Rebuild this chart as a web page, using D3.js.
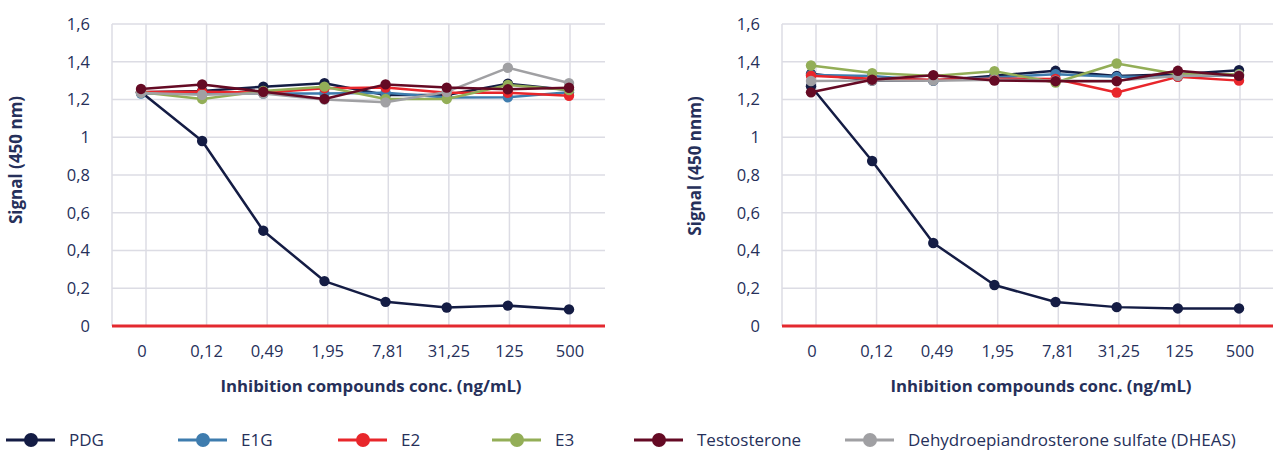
<!DOCTYPE html>
<html>
<head>
<meta charset="utf-8">
<script src="https://cdn.jsdelivr.net/npm/d3@7"></script>
<style>
  body { margin: 0; background: #fff; }
  svg text { font-family: "Open Sans", Lato, sans-serif; fill: #26305a; }
</style>
</head>
<body>
<div id="chart"></div>
<script>
// concentrations on the x axis (ng/mL)
const concentrations = ['0', '0,12', '0,49', '1,95', '7,81', '31,25', '125', '500']
const yTicks = [0, 0.2, 0.4, 0.6, 0.8, 1, 1.2, 1.4, 1.6]

const seriesNames = ['PDG', 'E1G', 'E2', 'E3', 'Testosterone', 'Dehydroepiandrosterone sulfate (DHEAS)']
const seriesColors = ['#141c44', '#3e7cae', '#e8262b', '#93ae57', '#650a24', '#a0a0a3']

// left panel
const leftPDG = [1.24, 0.98, 0.505, 0.238, 0.128, 0.098, 0.108, 0.088]
const leftE1G = [1.232, 1.232, 1.232, 1.232, 1.236, 1.21, 1.212, 1.238]
const leftE2 = [1.24, 1.241, 1.236, 1.26, 1.263, 1.236, 1.236, 1.22]
const leftE3 = [1.238, 1.203, 1.245, 1.268, 1.203, 1.203, 1.277, 1.25]
const leftTesto = [1.256, 1.28, 1.241, 1.203, 1.28, 1.263, 1.254, 1.262]
const leftDHEAS = [1.235, 1.225, 1.232, 1.2, 1.185, 1.24, 1.368, 1.287]
const leftExtra = [1.238, 1.245, 1.268, 1.286, 1.224, 1.224, 1.284, 1.25]

// right panel
const rightPDG = [1.27, 0.874, 0.44, 0.217, 0.127, 0.1, 0.093, 0.093]
const rightE1G = [1.33, 1.325, 1.3, 1.317, 1.334, 1.32, 1.32, 1.33]
const rightE2 = [1.326, 1.31, 1.305, 1.31, 1.309, 1.237, 1.32, 1.3]
const rightE3 = [1.38, 1.34, 1.325, 1.35, 1.29, 1.391, 1.334, 1.334]
const rightTesto = [1.238, 1.305, 1.329, 1.3, 1.297, 1.297, 1.352, 1.325]
const rightDHEAS = [1.298, 1.3, 1.3, 1.305, 1.3, 1.3, 1.325, 1.33]
const rightExtra = [1.336, 1.3, 1.3, 1.326, 1.352, 1.325, 1.334, 1.355]

const panels = [
  { left: 112, title: 'Signal (450 nm)', titleX: 16, titleY: 160,
    series: [leftExtra, leftPDG, leftE1G, leftE2, leftE3, leftDHEAS, leftTesto] },
  { left: 782, title: 'Signal (450 nnm)', titleX: 695, titleY: 166,
    series: [rightExtra, rightPDG, rightE1G, rightE2, rightE3, rightDHEAS, rightTesto] }
]
// draw order colours (extra dark line has no legend entry)
const drawColors = ['#141c44', '#141c44', '#3e7cae', '#e8262b', '#93ae57', '#a0a0a3', '#650a24']

const width = 1273
const height = 452
const plotW = 493
const plotTop = 24
const plotBottom = 326

const svg = d3.select('#chart')
  .append('svg')
  .attr('width', width)
  .attr('height', height)

const yScale = d3.scaleLinear().domain([0, 1.6]).range([plotBottom, plotTop])

panels.forEach(function (p) {
  const g = svg.append('g')
  const L = p.left

  const xPoint = d3.scalePoint().domain(concentrations).range([L + 29, L + 457])
  const xGrid = d3.scalePoint().domain(concentrations).range([L + 34, L + 458])

  // horizontal grid
  g.selectAll('.hgrid')
    .data(yTicks.slice(1))
    .enter()
    .append('line')
    .attr('x1', L)
    .attr('x2', L + plotW)
    .attr('y1', d => yScale(d))
    .attr('y2', d => yScale(d))
    .attr('stroke', '#dcdce4')
    .attr('stroke-width', 1.5)

  // vertical grid
  g.selectAll('.vgrid')
    .data(concentrations)
    .enter()
    .append('line')
    .attr('x1', d => xGrid(d))
    .attr('x2', d => xGrid(d))
    .attr('y1', plotTop)
    .attr('y2', plotBottom)
    .attr('stroke', '#dcdce4')
    .attr('stroke-width', 1.5)

  g.append('line')
    .attr('x1', L).attr('x2', L)
    .attr('y1', plotTop).attr('y2', plotBottom)
    .attr('stroke', '#dcdce4')
    .attr('stroke-width', 1.5)

  // y tick labels
  g.selectAll('.ylab')
    .data(yTicks)
    .enter()
    .append('text')
    .attr('x', L - 22)
    .attr('y', d => yScale(d))
    .attr('dy', '0.35em')
    .attr('text-anchor', 'end')
    .style('font-size', '16.5px')
    .text(d => String(d).replace('.', ','))

  // x tick labels
  g.selectAll('.xlab')
    .data(concentrations)
    .enter()
    .append('text')
    .attr('x', (d, i) => i === 0 ? xGrid(d) - 4 : xGrid(d))
    .attr('y', 351)
    .attr('dy', '0.35em')
    .attr('text-anchor', 'middle')
    .style('font-size', '16.5px')
    .text(d => d)

  g.append('text')
    .attr('x', L + 259)
    .attr('y', 386)
    .attr('dy', '0.35em')
    .attr('text-anchor', 'middle')
    .style('font-size', '16.8px')
    .style('font-weight', 'bold')
    .text('Inhibition compounds conc. (ng/mL)')

  g.append('text')
    .attr('transform', 'translate(' + p.titleX + ',' + p.titleY + ') rotate(-90)')
    .attr('dy', '0.35em')
    .attr('text-anchor', 'middle')
    .style('font-size', '17px')
    .style('font-weight', 'bold')
    .text(p.title)

  // lines and dots
  const line = d3.line()
    .x((d, i) => xPoint(concentrations[i]))
    .y(d => yScale(d))

  p.series.forEach(function (values, k) {
    g.append('path')
      .datum(values)
      .attr('d', line)
      .attr('fill', 'none')
      .attr('stroke', drawColors[k])
      .attr('stroke-width', 2.5)
      .attr('stroke-linejoin', 'round')

    g.selectAll('.dot' + k)
      .data(values)
      .enter()
      .append('circle')
      .attr('cx', (d, i) => xPoint(concentrations[i]))
      .attr('cy', d => yScale(d))
      .attr('r', 5.2)
      .attr('fill', drawColors[k])
  })

  // baseline
  g.append('line')
    .attr('x1', L)
    .attr('x2', L + plotW)
    .attr('y1', plotBottom)
    .attr('y2', plotBottom)
    .attr('stroke', '#e3292f')
    .attr('stroke-width', 3)
})

// legend
const legendX = [6, 178, 338, 492, 634, 845]
const legend = svg.selectAll('.legend')
  .data(seriesNames)
  .enter()
  .append('g')
  .attr('transform', (d, i) => 'translate(' + legendX[i] + ',440)')

legend.append('line')
  .attr('x1', 0).attr('x2', 49)
  .attr('stroke', (d, i) => seriesColors[i])
  .attr('stroke-width', 3)

legend.append('circle')
  .attr('cx', 25)
  .attr('r', 7)
  .attr('fill', (d, i) => seriesColors[i])

legend.append('text')
  .attr('x', 63)
  .attr('dy', '0.35em')
  .style('font-size', '17px')
  .text(d => d)
</script>
</body>
</html>
